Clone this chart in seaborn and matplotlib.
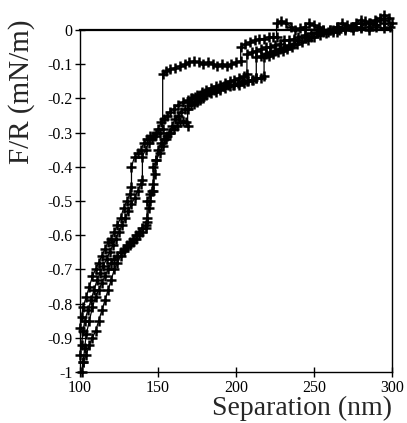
import numpy as np
import pandas as pd
import matplotlib
matplotlib.use("Agg")
import matplotlib.pyplot as plt
import seaborn as sns

# ---- data ----
x1 = [100, 101, 102, 104, 106, 108, 110, 112, 114, 116, 118, 120, 122, 124, 126, 128, 130, 132, 133, 133,
      135, 137, 139, 141, 143, 145, 147, 149, 151, 153, 153, 155, 158, 161, 164, 167, 170, 173, 176, 179,
      182, 185, 188, 191, 194, 197, 200, 203, 203, 206, 209, 212, 215, 218, 221, 224, 226, 226, 229, 232,
      235, 238, 241, 244, 247, 250, 253, 256, 259, 262, 265, 268, 271, 274, 277, 280, 283, 286, 289, 292,
      295, 298]
y1 = [-0.87, -0.84, -0.81, -0.78, -0.75, -0.72, -0.70, -0.68, -0.66, -0.64, -0.62, -0.61, -0.59, -0.57, -0.55, -0.52, -0.50, -0.48, -0.46, -0.40,
      -0.37, -0.36, -0.35, -0.33, -0.32, -0.31, -0.31, -0.30, -0.30, -0.29, -0.13, -0.12, -0.115, -0.11, -0.105, -0.10, -0.095, -0.09, -0.095, -0.10,
      -0.095, -0.10, -0.105, -0.10, -0.105, -0.10, -0.095, -0.09, -0.05, -0.04, -0.035, -0.03, -0.025, -0.025, -0.02, -0.02, -0.02, 0.02, 0.025, 0.02,
      0.01, 0.0, 0.005, 0.01, 0.02, 0.015, 0.01, 0.0, -0.005, 0.0, 0.01, 0.02, 0.015, 0.01, 0.02, 0.03, 0.025, 0.02, 0.03, 0.035,
      0.045, 0.035]

x2 = [100, 101, 102, 103, 105, 107, 109, 111, 113, 115, 117, 119, 121, 123, 125, 127, 129, 131, 133, 135,
      137, 139, 140, 140, 142, 144, 146, 148, 150, 152, 154, 156, 158, 160, 163, 166, 169, 172, 175, 178,
      181, 184, 187, 190, 193, 196, 199, 202, 205, 207, 207, 210, 213, 216, 219, 222, 225, 228, 231, 234,
      237, 240, 244, 248, 252, 256, 260, 265, 270, 275, 280, 285, 290, 295, 299]
y2 = [-0.95, -0.92, -0.88, -0.85, -0.82, -0.79, -0.76, -0.73, -0.71, -0.69, -0.67, -0.65, -0.63, -0.61, -0.59, -0.57, -0.55, -0.53, -0.51, -0.49,
      -0.47, -0.45, -0.44, -0.37, -0.35, -0.33, -0.32, -0.31, -0.29, -0.27, -0.26, -0.25, -0.24, -0.23, -0.22, -0.21, -0.205, -0.20, -0.19, -0.18,
      -0.175, -0.17, -0.165, -0.16, -0.155, -0.15, -0.145, -0.14, -0.135, -0.13, -0.07, -0.065, -0.06, -0.055, -0.05, -0.05, -0.045, -0.04, -0.03, -0.03,
      -0.025, -0.02, -0.015, -0.01, -0.005, 0.0, 0.0, 0.01, 0.005, 0.0, 0.01, 0.02, 0.015, 0.02, 0.01]

x3 = [101, 102, 103, 104, 106, 108, 110, 112, 114, 116, 118, 120, 122, 124, 126, 128, 130, 132, 134, 136,
      138, 140, 142, 143, 143, 145, 147, 147, 149, 151, 153, 155, 157, 159, 161, 163, 165, 167, 169, 171,
      173, 175, 177, 179, 181, 184, 187, 190, 193, 196, 199, 202, 205, 208, 211, 213, 213, 216, 219, 222,
      225, 228, 231, 234, 237, 240, 244, 248, 252, 256, 260, 265, 270, 275, 280, 285, 290, 295]
y3 = [-1.0, -0.97, -0.93, -0.89, -0.85, -0.81, -0.78, -0.76, -0.74, -0.72, -0.70, -0.68, -0.67, -0.66, -0.65, -0.64, -0.635, -0.63, -0.62, -0.61,
      -0.60, -0.59, -0.58, -0.56, -0.50, -0.48, -0.47, -0.40, -0.38, -0.36, -0.34, -0.32, -0.30, -0.28, -0.26, -0.25, -0.24, -0.23, -0.23, -0.22,
      -0.215, -0.21, -0.205, -0.20, -0.19, -0.185, -0.18, -0.175, -0.17, -0.165, -0.16, -0.16, -0.155, -0.15, -0.145, -0.14, -0.08, -0.075, -0.07, -0.065,
      -0.06, -0.055, -0.05, -0.045, -0.04, -0.03, -0.02, -0.02, -0.01, -0.005, 0.0, -0.005, 0.0, 0.01, 0.005, 0.0, 0.01, 0.005]

x4 = [102, 104, 106, 108, 110, 112, 114, 116, 118, 120, 122, 124, 126, 128, 130, 132, 134, 136, 138, 140,
      142, 143, 144, 145, 146, 147, 148, 149, 150, 152, 154, 156, 158, 160, 162, 164, 166, 168, 169, 169,
      171, 174, 177, 180, 183, 186, 189, 192, 195, 198, 201, 204, 207, 210, 213, 216, 218, 218, 221, 224,
      227, 230, 233, 236, 239, 242, 246, 250, 254, 258, 262, 266, 270, 275, 280, 285, 290, 295, 300]
y4 = [-0.97, -0.95, -0.92, -0.90, -0.88, -0.85, -0.82, -0.79, -0.76, -0.73, -0.70, -0.68, -0.66, -0.645, -0.63, -0.62, -0.61, -0.60, -0.59, -0.58,
      -0.57, -0.55, -0.52, -0.50, -0.47, -0.45, -0.42, -0.38, -0.35, -0.33, -0.32, -0.31, -0.30, -0.29, -0.28, -0.27, -0.265, -0.27, -0.28, -0.21,
      -0.20, -0.195, -0.19, -0.185, -0.18, -0.175, -0.17, -0.165, -0.16, -0.16, -0.155, -0.15, -0.15, -0.145, -0.14, -0.14, -0.135, -0.08, -0.075, -0.07,
      -0.065, -0.06, -0.055, -0.05, -0.04, -0.035, -0.03, -0.02, -0.015, -0.01, -0.005, 0.0, 0.005, 0.01, 0.02, 0.01, 0.025, 0.03, 0.02]

x_ticks = [100, 150, 200, 250, 300]
y_ticks = [0, -0.1, -0.2, -0.3, -0.4, -0.5, -0.6, -0.7, -0.8, -0.9, -1]
y_tick_labels = ["0", "-0.1", "-0.2", "-0.3", "-0.4", "-0.5", "-0.6", "-0.7", "-0.8", "-0.9", "-1"]

sns.set_style("ticks")
plt.rcParams["font.family"] = ["Liberation Serif", "DejaVu Serif"]

fig = plt.figure(figsize=(4.07, 4.23), dpi=100)
ax = fig.add_axes([80 / 407, 1 - 372 / 423, 312 / 407, 342 / 423])

for xs, ys in [(x1, y1), (x2, y2), (x3, y3), (x4, y4)]:
    df = pd.DataFrame({"sep": xs, "fr": ys})
    sns.lineplot(data=df, x="sep", y="fr", sort=False, estimator=None, ax=ax,
                 color="black", linewidth=0.9, marker="+", markersize=6.5,
                 markeredgewidth=1.8, markeredgecolor="black", clip_on=False)

ax.set_xlim(100, 300)
ax.set_ylim(-1, 0)
ax.set_xticks(x_ticks)
ax.set_xticklabels([str(t) for t in x_ticks])
ax.set_yticks(y_ticks)
ax.set_yticklabels(y_tick_labels)
ax.tick_params(direction="inout", length=7, width=1, labelsize=11.5, pad=2, colors="black")
for s in ax.spines.values():
    s.set_color("black")
    s.set_linewidth(1.0)
ax.spines["top"].set_linewidth(1.6)

ax.set_xlabel("Separation (nm)", fontsize=20, loc="right")
ax.xaxis.set_label_coords(1.0, -0.07)
ax.set_ylabel("F/R (mN/m)", fontsize=21, loc="top")
ax.yaxis.set_label_coords(-0.145, 1.03)

fig.savefig("out.png", dpi=100)
